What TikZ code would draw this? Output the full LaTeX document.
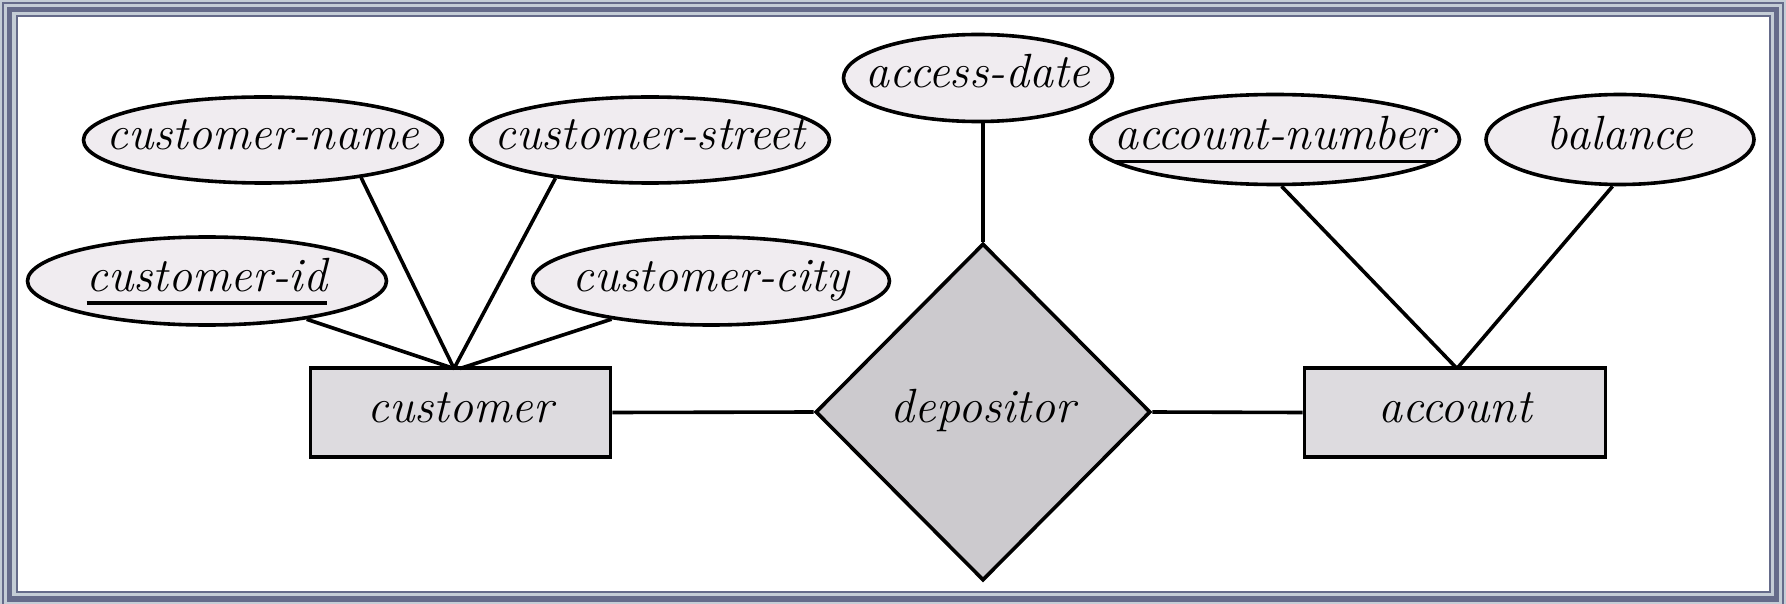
\documentclass[tikz,border=0pt]{standalone}
\usetikzlibrary{shapes.geometric}
\definecolor{framelight}{RGB}{196,205,214}
\definecolor{framedark}{RGB}{101,107,138}
\definecolor{attrfill}{RGB}{240,236,240}
\definecolor{entfill}{RGB}{221,219,223}
\definecolor{relfill}{RGB}{204,202,206}
\newcommand\ulkey[1]{{\setbox0\hbox{#1}\rlap{\rule[-13.5pt]{\wd0}{3.2pt}}\box0}}
\newcommand\zw[1]{\makebox[0pt]{#1}}
\tikzset{
  erfont/.style={font=\fontsize{48}{58}\selectfont\itshape, text height=32pt, text depth=12pt},
  attr/.style={ellipse, draw, line width=3.6pt, fill=attrfill, inner sep=0pt, erfont},
  entity/.style={rectangle, draw, line width=3.6pt, fill=entfill, inner sep=0pt, erfont},
  rel/.style={diamond, draw, line width=3.6pt, fill=relfill, inner sep=0pt, erfont},
  link/.style={draw, line width=3.6pt},
}
\begin{document}
\begin{tikzpicture}[x=1pt,y=-1pt]
\useasboundingbox (0,0) rectangle (1786,604);
% frame
\fill[framelight] (0,0) rectangle (1786,604);
\begin{scope}
\clip (0,0) rectangle (1786,604);
\draw[framedark, line width=1.8pt] (3,3) rectangle (1783,605.5);
\draw[framedark, line width=5.5pt] (9.7,9.7) rectangle (1776.3,598.8);
\draw[framedark, line width=2pt, fill=white] (16.5,16.5) rectangle (1769.5,592);
\end{scope}
% entities and relationship
\node[entity, minimum width=300pt, minimum height=89pt] (cust) at (460.5,412.5) {\zw{customer}};
\node[entity, minimum width=301pt, minimum height=89pt] (acct) at (1455,412.5) {\zw{account}};
\node[rel, minimum width=335pt, minimum height=337pt] (dep) at (983,412) {\zw{depositor}};
% attributes
\node[attr, minimum width=359pt, minimum height=86pt] (cname) at (263,140) {\zw{customer-name}};
\node[attr, minimum width=359pt, minimum height=86pt] (cstreet) at (650,140) {\zw{customer-street}};
\node[attr, minimum width=359pt, minimum height=88pt] (cid) at (207,281) {\zw{\ulkey{customer-id}}};
\node[attr, minimum width=357pt, minimum height=88pt] (ccity) at (711,281) {\zw{customer-city}};
\node[attr, minimum width=269pt, minimum height=87pt] (adate) at (978,78) {\zw{access-date}};
\node[attr, minimum width=369pt, minimum height=90pt] (anum) at (1275,139.5) {\zw{\ulkey{account-number}}};
\node[attr, minimum width=268pt, minimum height=90pt] (bal) at (1620,139.5) {\zw{balance}};
% connection points
\coordinate (ctop) at (454,368.5);
\coordinate (ctop2) at (460,368.5);
\coordinate (atop) at (1457,368.5);
% connectors
\draw[link] (cid.-21) -- (ctop);
\draw[link] (cname.-21) -- (ctop);
\draw[link] (cstreet.-158) -- (ctop);
\draw[link] (ccity.-159) -- (ctop2);
\draw[link] (anum.-82) -- (atop);
\draw[link] (bal.-99) -- (atop);
\draw[link] (dep.north) -- (dep.north |- adate.south);
\draw[link] (cust.east) -- (dep.west);
\draw[link] (dep.east) -- (acct.west);
\end{tikzpicture}
\end{document}
